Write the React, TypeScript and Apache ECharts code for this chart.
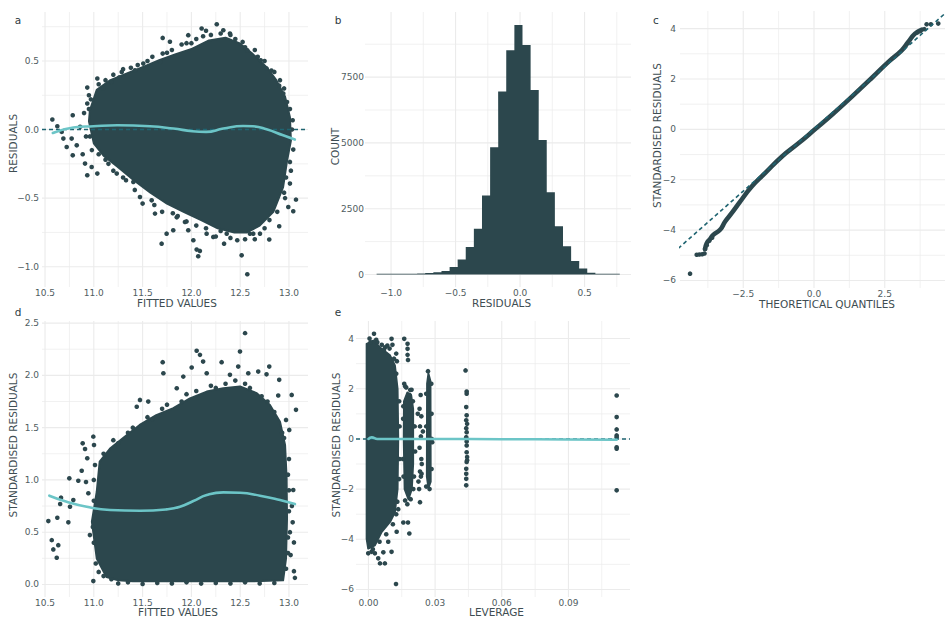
import React, { useEffect, useRef } from "react";
import * as echarts from "echarts";

// ---------------- data ----------------
// Panel a: residuals vs fitted
const aFittedTicks = [10.5, 11.0, 11.5, 12.0, 12.5, 13.0];
const aFittedMinor = [10.75, 11.25, 11.75, 12.25, 12.75];
const aResidTicks = [-1.0, -0.5, 0.0, 0.5];
const aResidMinor = [-0.75, -0.25, 0.25, 0.75];
const aCore = [
  [10.96, 0.14], [11.03, 0.29], [11.17, 0.36], [11.34, 0.41], [11.5, 0.455], [11.67, 0.505],
  [11.84, 0.55], [12.01, 0.59], [12.18, 0.65], [12.35, 0.67], [12.49, 0.63], [12.63, 0.55],
  [12.77, 0.455], [12.87, 0.36], [12.96, 0.24], [13.01, 0.09], [13.02, -0.08], [12.98, -0.23],
  [12.94, -0.42], [12.84, -0.6], [12.7, -0.7], [12.57, -0.75], [12.44, -0.75], [12.27, -0.72],
  [12.1, -0.66], [11.92, -0.6], [11.75, -0.54], [11.58, -0.46], [11.41, -0.37], [11.24, -0.27],
  [11.1, -0.19], [11.0, -0.1], [10.95, 0.06],
];
const aPoints = [
  [10.575, 0.073], [10.626, 0.024], [10.671, -0.017], [10.688, -0.066], [10.722, -0.127], [10.784, 0.104],
  [10.773, -0.066], [10.825, -0.115], [10.784, -0.188], [10.886, -0.18], [10.91, -0.248], [10.933, -0.333],
  [10.978, -0.273], [11.036, -0.321], [10.933, 0.306], [11.036, 0.372], [10.933, 0.19], [10.95, 0.25],
  [10.9, 0.12], [10.92, -0.05], [10.86, 0.02],
  [11.097, 0.299], [11.183, 0.347], [11.286, 0.42], [11.422, 0.432], [11.507, 0.481], [11.68, 0.493],
  [11.706, 0.554], [11.706, 0.668], [11.78, 0.64], [11.968, 0.688], [12.105, 0.737], [12.15, 0.72],
  [12.26, 0.768], [12.327, 0.724], [12.395, 0.7], [12.525, 0.639], [12.573, 0.578], [12.71, 0.505],
  [12.77, 0.445], [12.82, 0.43], [12.908, 0.36], [12.942, 0.263], [11.9, 0.62], [12.05, 0.66],
  [12.2, 0.69], [11.3, 0.44], [11.55, 0.5],
  [11.05, 0.33], [11.12, 0.36], [11.2, 0.4], [11.26, 0.38], [11.38, 0.45], [11.45, 0.47], [11.6, 0.53],
  [11.75, 0.56], [11.8, 0.58], [11.95, 0.63], [12.0, 0.63], [12.12, 0.68], [12.3, 0.7], [12.4, 0.69],
  [12.45, 0.66], [12.55, 0.6], [12.65, 0.58], [12.68, 0.53], [12.75, 0.5], [12.85, 0.42], [12.9, 0.32],
  [12.95, 0.3], [12.98, 0.2],
  [13.01, 0.15], [13.038, 0.068], [12.99, -0.02], [13.044, -0.146], [13.01, -0.236], [13.01, -0.394],
  [12.993, -0.565], [13.072, -0.511], [13.044, -0.596], [12.9, -0.705], [12.96, -0.5], [13.03, 0.0],
  [13.02, -0.3], [12.97, -0.35], [12.95, -0.46], [12.88, -0.6], [12.8, -0.66],
  [11.695, -0.832], [11.746, -0.759], [11.814, -0.734], [11.934, -0.674], [11.968, -0.734], [12.02, -0.807],
  [12.054, -0.875], [12.07, -0.924], [12.087, -0.885], [12.224, -0.783], [12.156, -0.759], [12.335, -0.832],
  [12.362, -0.759], [12.47, -0.807], [12.515, -0.917], [12.573, -1.055], [12.634, -0.759], [12.703, -0.759],
  [12.798, -0.802], [11.593, -0.516], [11.5, -0.54], [11.405, -0.382], [11.33, -0.37], [11.235, -0.321],
  [11.473, -0.492], [11.627, -0.613], [11.81, -0.61], [11.15, -0.25], [12.3, -0.74], [12.6, -0.76],
  [11.86, -0.63], [12.75, -0.72], [12.65, -0.8], [12.55, -0.8], [12.4, -0.79], [12.25, -0.78],
  [12.15, -0.72], [12.05, -0.7], [11.95, -0.67], [11.85, -0.64], [11.7, -0.6], [11.62, -0.55],
  [11.42, -0.44], [11.3, -0.35], [11.2, -0.3], [11.12, -0.22], [11.05, -0.18],
  [10.98, -0.15], [10.96, -0.05], [10.95, 0.15], [10.97, 0.22],
];
const aLoess = [
  [10.58, -0.025], [10.79, 0.015], [10.995, 0.024], [11.24, 0.031], [11.576, 0.024], [11.815, 0.007],
  [12.01, -0.012], [12.15, -0.017], [12.327, 0.007], [12.53, 0.026], [12.63, 0.024], [12.77, 0.002],
  [12.94, -0.042], [13.06, -0.073],
];

// Panel b: histogram of residuals
const bResidTicks = [-1.0, -0.5, 0.0, 0.5];
const bResidMinor = [-0.75, -0.25, 0.25, 0.75];
const bCountTicks = [0, 2500, 5000, 7500];
const bCountMinor = [1250, 3750, 6250, 8750];
const histBinWidth = 0.0628;
const histBinStart = [
  -1.112, -1.049, -0.986, -0.923, -0.86, -0.798, -0.735, -0.672, -0.609, -0.546, -0.484, -0.421,
  -0.358, -0.295, -0.232, -0.17, -0.107, -0.044, 0.019, 0.082, 0.144, 0.207, 0.27, 0.333, 0.396,
  0.458, 0.521, 0.584, 0.647, 0.71,
];
const histCount = [
  2, 3, 5, 8, 15, 38, 60, 87, 136, 288, 568, 1045, 1742, 3003, 4833, 6955, 8523, 9481, 8723, 7008,
  5114, 3129, 1830, 1072, 515, 227, 70, 30, 15, 8,
];

// Panel c: normal Q-Q
const cTheoTicks = [-2.5, 0.0, 2.5];
const cTheoMinor = [-3.75, -1.25, 1.25, 3.75];
const cStdTicks = [-6, -4, -2, 0, 2, 4];
const cStdMinor = [-5, -3, -1, 1, 3];
const qqCurve = [
  [-3.85, -4.75], [-3.79, -4.52], [-3.675, -4.36], [-3.56, -4.19], [-3.32, -3.99], [-3.14, -3.66],
  [-2.91, -3.33], [-2.61, -2.87], [-2.2, -2.27], [-1.73, -1.74], [-1.14, -1.085], [-0.55, -0.555],
  [0.035, 0.0], [0.625, 0.567], [1.33, 1.29], [2.04, 2.04], [2.63, 2.68], [3.1, 3.14], [3.33, 3.47],
  [3.57, 3.8], [3.81, 3.96],
];
const qqTail = [
  [-4.38, -5.73], [-4.145, -4.98], [-4.05, -4.97], [-3.95, -4.96], [-3.87, -4.93], [-3.85, -4.75],
  [-3.79, -4.6], [-3.7, -4.42], [-3.6, -4.3], [3.65, 3.85], [3.75, 3.9], [3.9, 3.98], [3.98, 4.17],
  [4.13, 4.17], [4.39, 4.2],
];
const qqLine = [[-4.8, -4.73], [4.8, 4.77]];

// Panel d: scale-location
const dFittedTicks = [10.5, 11.0, 11.5, 12.0, 12.5, 13.0];
const dFittedMinor = [10.75, 11.25, 11.75, 12.25, 12.75];
const dSqrtTicks = [0.0, 0.5, 1.0, 1.5, 2.0, 2.5];
const dSqrtMinor = [0.25, 0.75, 1.25, 1.75, 2.25];
const dCore = [
  [11.03, 0.887], [11.06, 1.174], [11.166, 1.3], [11.3, 1.4], [11.47, 1.526], [11.64, 1.62],
  [11.815, 1.686], [11.985, 1.78], [12.157, 1.845], [12.327, 1.877], [12.498, 1.893], [12.67, 1.83],
  [12.805, 1.717], [12.908, 1.557], [12.96, 1.334], [12.976, 1.015], [12.98, 0.632], [12.97, 0.249],
  [12.94, 0.04], [12.6, 0.03], [12.0, 0.03], [11.4, 0.03], [11.25, 0.04], [11.13, 0.07],
  [11.03, 0.249], [10.98, 0.6],
];
const dPoints = [
  [10.534, 0.606], [10.569, 0.424], [10.585, 0.335], [10.62, 0.255], [10.626, 0.638], [10.636, 0.376],
  [10.664, 0.83], [10.655, 0.77], [10.739, 0.594], [10.749, 1.015], [10.756, 0.743], [10.79, 0.807],
  [10.841, 0.992], [10.876, 1.088], [10.886, 1.35], [10.91, 1.296], [10.933, 1.207], [10.944, 0.872],
  [10.92, 0.98], [10.995, 1.414], [11.002, 1.334], [11.012, 1.143], [10.995, 0.032], [10.96, 0.472],
  [11.0, 1.0], [11.0, 0.8], [10.99, 0.55], [11.0, 0.4], [11.02, 0.2], [11.05, 0.12], [11.1, 0.08],
  [11.18, 0.05],
  [11.44, 1.7], [11.473, 1.765], [11.558, 1.749], [11.706, 2.126], [11.713, 2.02], [11.85, 1.877],
  [11.917, 1.988], [12.003, 2.075], [12.054, 2.235], [12.088, 2.196], [12.12, 2.132], [12.157, 2.02],
  [12.31, 2.126], [12.395, 2.005], [12.48, 2.084], [12.498, 2.228], [12.55, 2.404], [12.583, 2.02],
  [12.685, 2.036], [12.798, 2.084], [12.77, 2.01], [12.9, 1.957], [12.89, 1.807], [13.028, 1.813],
  [13.072, 1.67], [12.97, 1.574], [13.003, 1.478],
  [11.1, 1.25], [11.2, 1.38], [11.25, 1.35], [11.35, 1.45], [11.4, 1.5], [11.55, 1.6], [11.6, 1.58],
  [11.7, 1.68], [11.75, 1.72], [11.9, 1.75], [11.95, 1.82], [12.05, 1.85], [12.2, 1.9], [12.25, 1.88],
  [12.35, 1.92], [12.45, 1.95], [12.55, 1.92], [12.6, 1.88], [12.72, 1.8], [12.78, 1.75], [12.85, 1.65],
  [12.93, 1.45], [12.95, 1.4],
  [13.0, 1.2], [12.99, 1.05], [13.0, 0.9], [13.0, 0.7], [12.99, 0.45], [12.99, 0.3], [12.97, 0.15],
  [13.044, 0.903], [13.038, 0.594], [13.051, 0.402], [13.017, 0.281], [13.051, 0.127], [13.061, 0.063],
  [13.01, 0.5], [13.03, 0.75],
  [11.25, 0.01], [11.5, 0.005], [11.8, 0.01], [12.1, 0.008], [12.4, 0.01], [12.7, 0.01],
  [11.35, 0.02], [11.65, 0.015], [11.95, 0.02], [12.25, 0.015], [12.55, 0.02], [12.85, 0.015],
];
const dLoess = [
  [10.544, 0.849], [10.722, 0.791], [10.927, 0.743], [11.166, 0.712], [11.473, 0.705], [11.747, 0.718],
  [11.883, 0.743], [12.02, 0.798], [12.157, 0.855], [12.327, 0.881], [12.498, 0.877], [12.703, 0.849],
  [12.908, 0.807], [13.061, 0.769],
];

// Panel e: residuals vs leverage
const eLevTicks = [0.0, 0.03, 0.06, 0.09];
const eLevMinor = [0.015, 0.045, 0.075, 0.105];
const eStdTicks = [-6, -4, -2, 0, 2, 4];
const eStdMinor = [-5, -3, -1, 1, 3];
const eCore = [
  [-0.0008, 3.79], [0.0022, 3.92], [0.0059, 3.59], [0.0097, 3.33], [0.0119, 2.93], [0.0131, 2.0],
  [0.0134, 0], [0.0131, -1.99], [0.0119, -2.92], [0.0097, -3.31], [0.0059, -3.71], [0.0029, -4.24],
  [-0.0001, -4.37], [-0.0008, -3.98],
];
const eStripA = [
  [0.016, 1.5], [0.0175, 1.85], [0.0192, 1.75], [0.0201, 1.2], [0.0201, -1.0], [0.0195, -2.0],
  [0.018, -2.4], [0.0163, -2.0], [0.0159, 0],
];
const eStripB = [[0.0264, 2.2], [0.027, 2.6], [0.0279, 2.3], [0.028, -1.7], [0.027, -1.95], [0.0263, -1.5]];
const ePoints = [
  [0.0025, 4.19], [0.0005, 4.0], [0.006, 3.75], [0.0085, 3.72], [0.0104, 3.99], [0.0108, 3.75],
  [0.0125, 3.4], [0.0128, 3.1], [0.0095, 3.6], [0.0035, 3.95], [0.0075, 3.65],
  [0.001, 3.85], [0.004, 3.85], [0.007, 3.55], [0.0115, 3.2], [0.0125, 2.6],
  [0.0138, 1.5], [0.014, 0.5], [0.014, -0.8], [0.0138, -1.6], [0.013, -2.5], [0.0125, -3.0],
  [0.011, -3.4], [0.008, -3.8], [0.005, -4.1], [0.002, -4.4],
  [0.0161, 3.99], [0.0176, 3.79], [0.0176, 3.59], [0.0176, 3.35], [0.0178, 3.15], [0.0161, 2.2],
  [0.0194, 1.96], [0.017, 2.05], [0.0185, 1.75],
  [0.0165, 2.1], [0.0188, 1.95], [0.02, 1.5], [0.0208, 0.5], [0.021, -0.5], [0.0205, -1.5],
  [0.0202, -2.0], [0.0165, -2.45], [0.0158, -1.5], [0.0155, -0.8], [0.0156, 0.8], [0.0157, 1.3],
  [0.0134, -2.8], [0.0157, -3.33], [0.0178, -3.33], [0.0184, -3.77], [0.0175, -2.6], [0.019, -2.4],
  [0.0232, -2.52], [0.0239, -1.39], [0.0287, -0.13],
  [0.0268, 2.7], [0.0283, 2.2], [0.0284, 1.0], [0.0285, 0], [0.0284, -1.2], [0.026, -1.9],
  [0.026, 0.5], [0.026, 1.8], [0.0275, -2.0],
  [0.0029, -4.56], [0.0044, -4.76], [0.0052, -4.96], [0.0074, -4.96], [0.0067, -4.52], [0.0104, -4.5],
  [0.0089, -4.1], [0.0127, -3.7], [0.0124, -5.78], [0.0014, -4.5], [-0.0001, -4.56],
  [0.0235, 1.75], [0.023, 1.2], [0.0238, 0.9], [0.0232, 0.5], [0.0236, 0.1], [0.023, -0.35],
  [0.0238, -0.8], [0.0232, -1.3], [0.0236, -1.5], [0.0228, -2.0], [0.024, -1.0], [0.0245, 0.3],
  [0.0222, 1.0], [0.0225, -1.7],
  [0.0437, 2.73], [0.0442, 1.89], [0.0442, 1.8], [0.044, 1.27], [0.0442, 0.94], [0.044, 0.74],
  [0.044, 0.43], [0.0442, 0.27], [0.044, 0.07], [0.0442, -0.26], [0.0442, -0.53], [0.0444, -0.72],
  [0.0442, -0.92], [0.044, -1.19], [0.044, -1.39], [0.044, -1.59], [0.044, -1.85], [0.0444, 0.6],
  [0.0442, -0.1], [0.0444, -0.85],
  [0.1117, 1.73], [0.1117, 0.87], [0.1117, 0.38], [0.1117, 0.14], [0.1117, 0.07], [0.1117, -0.33],
  [0.1117, -0.39], [0.1117, -2.05],
];
const eLoess = [[0.0, 0.0], [0.0015, 0.06], [0.004, 0.0], [0.03, 0.0], [0.06, -0.01], [0.09, -0.02], [0.1117, -0.03]];

// ---------------- styling ----------------
const POINT = "#2c474d";
const LOESS = "#6cc5c7";
const DASH = "#1f6471";
const TICK = "#505d61";
const TITLE = "#3e4d52";
const GRID = "#ebebeb";
const FONT = "'DejaVu Sans', 'Noto Sans', sans-serif";

const A_X = [10.469, 13.195], A_Y = [-1.148, 0.857];
const B_X = [-1.202, 0.86], B_Y = [-475, 9975];
const C_X = [-4.735, 4.735], C_Y = [-6.3, 4.7];
const D_X = [10.469, 13.195], D_Y = [-0.12, 2.52];
const E_X = [-0.0056, 0.1177], E_Y = [-6.3, 4.7];

const fmt = (d: number) => (v: any) => {
  const s = Number(v).toFixed(d);
  return s.startsWith("-") ? "\u2212" + s.slice(1) : s;
};

function xAxis(gi: number, r: number[], ticks: number[], dec: number, name: string, shift: number, gap: number) {
  return {
    type: "value", gridIndex: gi, min: r[0], max: r[1],
    axisLine: { show: false }, axisTick: { show: false }, splitLine: { show: false },
    axisLabel: {
      customValues: ticks, formatter: fmt(dec), color: TICK, fontSize: 9, lineHeight: 9, fontFamily: FONT, margin: 1,
    },
    name, nameLocation: "middle", nameGap: gap, nameMoveOverlap: false,
    nameTextStyle: { color: TITLE, fontSize: 10.5, lineHeight: 10, fontFamily: FONT, padding: [0, 0, 0, shift] },
  };
}
function yAxis(gi: number, r: number[], ticks: number[], dec: number, name: string, gap: number, shift: number, margin: number) {
  return {
    type: "value", gridIndex: gi, min: r[0], max: r[1],
    axisLine: { show: false }, axisTick: { show: false }, splitLine: { show: false },
    axisLabel: { customValues: ticks, formatter: fmt(dec), color: TICK, fontSize: 9, fontFamily: FONT, margin },
    name, nameLocation: "middle", nameGap: gap, nameRotate: 90, nameMoveOverlap: false,
    nameTextStyle: { color: TITLE, fontSize: 10.5, lineHeight: 10, fontFamily: FONT, padding: [0, 0, 0, shift] },
  };
}

function gridLines(gi: number, xr: number[], yr: number[], xMaj: number[], xMin: number[], yMaj: number[], yMin: number[]) {
  const data = [
    ...xMin.map((v) => [v, yr[0], v, yr[1], 0]),
    ...yMin.map((v) => [xr[0], v, xr[1], v, 0]),
    ...xMaj.map((v) => [v, yr[0], v, yr[1], 1]),
    ...yMaj.map((v) => [xr[0], v, xr[1], v, 1]),
  ];
  return {
    type: "custom", xAxisIndex: gi, yAxisIndex: gi, z: 0, silent: true, clip: true, data,
    encode: { x: [0, 2], y: [1, 3] },
    renderItem: (_p: any, api: any) => {
      const a = api.coord([api.value(0), api.value(1)]);
      const b = api.coord([api.value(2), api.value(3)]);
      const major = api.value(4) === 1;
      return {
        type: "line",
        shape: { x1: a[0], y1: a[1], x2: b[0], y2: b[1] },
        style: { stroke: GRID, lineWidth: major ? 1.1 : 0.7 },
      };
    },
  };
}

function polygon(gi: number, pts: number[][]) {
  return {
    type: "custom", xAxisIndex: gi, yAxisIndex: gi, z: 2, silent: true, clip: true,
    data: [pts[0]],
    renderItem: (_p: any, api: any) => ({
      type: "polygon",
      shape: { points: pts.map((p) => api.coord(p)) },
      style: { fill: POINT, stroke: POINT, lineWidth: 2, lineJoin: "round" },
    }),
  };
}
function scatter(gi: number, pts: number[][]) {
  return {
    type: "scatter", xAxisIndex: gi, yAxisIndex: gi, z: 3, silent: true, data: pts,
    symbol: "circle", symbolSize: 4.6, itemStyle: { color: POINT, opacity: 1 },
  };
}
function loess(gi: number, pts: number[][]) {
  return {
    type: "line", xAxisIndex: gi, yAxisIndex: gi, z: 5, silent: true, data: pts, smooth: true,
    showSymbol: false, symbol: "none", lineStyle: { color: LOESS, width: 2.6, cap: "round" },
  };
}
function dashed(gi: number, pts: number[][]) {
  return {
    type: "line", xAxisIndex: gi, yAxisIndex: gi, z: 4, silent: true, data: pts, clip: true,
    showSymbol: false, symbol: "none", lineStyle: { color: DASH, width: 1.6, type: [4, 3] },
  };
}

export default function App() {
  const ref = useRef<HTMLDivElement>(null);
  useEffect(() => {
    if (!ref.current) return;
    const chart = echarts.init(ref.current, null, { renderer: "svg" });
    const grid = (left: number, top: number, width: number, height: number) => ({
      left, top, width, height, containLabel: false, outerBoundsMode: "none",
    });
    const tag = (t: string, x: number, y: number) => ({
      type: "text", x, y,
      style: { text: t, fill: "#2f3b3f", fontSize: 10.5, fontFamily: FONT, textAlign: "center", textVerticalAlign: "middle" },
    });
    const histData = histBinStart.map((s, i) => [s, s + histBinWidth, histCount[i]]);
    chart.setOption({
      animation: false,
      backgroundColor: "#ffffff",
      grid: [
        grid(42, 12, 266, 275),
        grid(365, 12, 266, 275),
        grid(680, 11, 268, 277),
        grid(42, 321, 266, 276),
        grid(356, 321, 274, 276),
      ],
      xAxis: [
        xAxis(0, A_X, aFittedTicks, 1, "FITTED VALUES", 4, 11),
        xAxis(1, B_X, bResidTicks, 1, "RESIDUALS", 7, 11),
        xAxis(2, C_X, cTheoTicks, 1, "THEORETICAL QUANTILES", 26, 11),
        xAxis(3, D_X, dFittedTicks, 1, "FITTED VALUES", 6, 10),
        xAxis(4, E_X, eLevTicks, 2, "LEVERAGE", 7, 10),
      ],
      yAxis: [
        yAxis(0, A_Y, aResidTicks, 1, "RESIDUALS", 24, 12, 3),
        yAxis(1, B_Y, bCountTicks, 0, "COUNT", 25, 6, 1),
        yAxis(2, C_Y, cStdTicks, 0, "STANDARDISED RESIDUALS", 18, 28, 4),
        yAxis(3, D_Y, dSqrtTicks, 1, "STANDARDISED RESIDUALS", 24, 28, 3),
        yAxis(4, E_Y, eStdTicks, 0, "STANDARDISED RESIDUALS", 15, 28, 2),
      ],
      graphic: [tag("a", 18, 20), tag("b", 338, 20), tag("c", 656, 20), tag("d", 18, 312), tag("e", 338, 312)],
      series: [
        gridLines(0, A_X, A_Y, aFittedTicks, aFittedMinor, aResidTicks, aResidMinor),
        gridLines(1, B_X, B_Y, bResidTicks, bResidMinor, bCountTicks, bCountMinor),
        gridLines(2, C_X, C_Y, cTheoTicks, cTheoMinor, cStdTicks, cStdMinor),
        gridLines(3, D_X, D_Y, dFittedTicks, dFittedMinor, dSqrtTicks, dSqrtMinor),
        gridLines(4, E_X, E_Y, eLevTicks, eLevMinor, eStdTicks, eStdMinor),
        // a
        polygon(0, aCore),
        scatter(0, aPoints),
        dashed(0, [[A_X[0], 0], [A_X[1], 0]]),
        loess(0, aLoess),
        // b: histogram drawn as one stepped outline so adjacent bars have no seams
        {
          type: "custom", xAxisIndex: 1, yAxisIndex: 1, z: 2, silent: true, clip: true,
          data: [histData[0]],
          encode: { x: [0, 1], y: 2 },
          renderItem: (_p: any, api: any) => {
            const pts: number[][] = [];
            const baseY = api.coord([0, 0])[1];
            histData.forEach((d) => {
              const a = api.coord([d[0], d[2]]);
              const b = api.coord([d[1], d[2]]);
              pts.push([a[0], Math.min(a[1], baseY - 0.7)], [b[0], Math.min(b[1], baseY - 0.7)]);
            });
            const first = api.coord([histData[0][0], 0]);
            const last = api.coord([histData[histData.length - 1][1], 0]);
            pts.push([last[0], baseY], [first[0], baseY]);
            return { type: "polygon", shape: { points: pts }, style: { fill: POINT } };
          },
        },
        // c
        dashed(2, qqLine),
        {
          type: "line", xAxisIndex: 2, yAxisIndex: 2, z: 3, silent: true, data: qqCurve, smooth: true,
          showSymbol: false, symbol: "none", lineStyle: { color: POINT, width: 4.6, cap: "round", join: "round" },
        },
        scatter(2, qqTail),
        // d
        polygon(3, dCore),
        scatter(3, dPoints),
        loess(3, dLoess),
        // e
        polygon(4, eCore),
        polygon(4, eStripA),
        polygon(4, eStripB),
        scatter(4, ePoints),
        dashed(4, [[E_X[0], 0], [E_X[1], 0]]),
        loess(4, eLoess),
      ],
    });
    return () => chart.dispose();
  }, []);
  return (
    <div
      ref={ref}
      style={{ position: "absolute", left: 0, top: 0, width: 945, height: 618, background: "#fff" }}
    />
  );
}
